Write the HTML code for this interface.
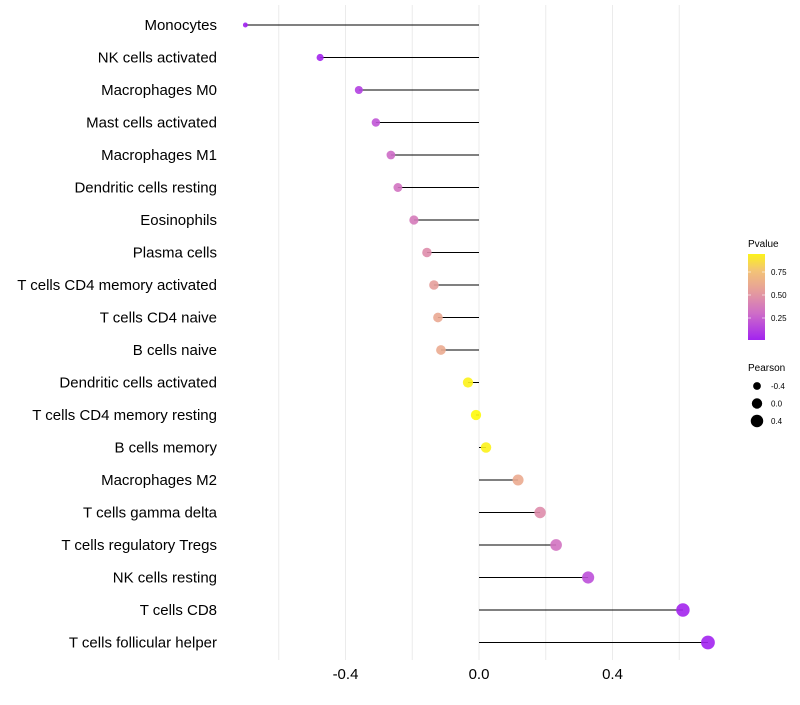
<!DOCTYPE html>
<html><head><meta charset="utf-8"><style>
body{margin:0;background:#fff;font-family:"Liberation Sans",sans-serif}
</style></head><body>
<svg id="chart" width="800" height="700" xmlns="http://www.w3.org/2000/svg"></svg>
<script>
const categories=["Monocytes","NK cells activated","Macrophages M0","Mast cells activated","Macrophages M1","Dendritic cells resting","Eosinophils","Plasma cells","T cells CD4 memory activated","T cells CD4 naive","B cells naive","Dendritic cells activated","T cells CD4 memory resting","B cells memory","Macrophages M2","T cells gamma delta","T cells regulatory  Tregs","NK cells resting","T cells CD8","T cells follicular helper"];
const pearson=[-0.70,-0.476,-0.36,-0.309,-0.264,-0.243,-0.195,-0.156,-0.135,-0.123,-0.114,-0.033,-0.009,0.021,0.117,0.183,0.231,0.327,0.611,0.686];
const pvalue=[0.0,0.02,0.12,0.2,0.3,0.33,0.37,0.45,0.55,0.62,0.63,0.95,0.98,0.95,0.63,0.45,0.33,0.18,0.02,0.01];
const xTicks=[-0.4,0.0,0.4];
const xTickLabels=["-0.4","0.0","0.4"];
const gridVals=[-0.6,-0.4,-0.2,0,0.2,0.4,0.6];
const colorTicks=[0.25,0.5,0.75];
const sizeLegend=[-0.4,0.0,0.4];

const svg=document.getElementById('chart');
const NS="http://www.w3.org/2000/svg";
const x=v=>479+v*333.75;
const y=i=>25+i*32.5;
const r=v=>Math.max(1.5,Math.sqrt(Math.max(0,27+30*v)));
const stops=[[0,[160,32,240]],[0.25,[200,98,208]],[0.5,[227,150,162]],[0.75,[242,190,128]],[1,[255,255,0]]];
function col(p){p=Math.max(0,Math.min(1,p));for(let k=1;k<stops.length;k++){if(p<=stops[k][0]){const[a0,a]=stops[k-1],[b0,b]=stops[k];const f=(p-a0)/(b0-a0);return `rgb(${a.map((c,i)=>Math.round(c+(b[i]-c)*f)).join(',')})`;}}return 'rgb(255,255,0)';}
function mk(t,at,parent){const e=document.createElementNS(NS,t);for(const k in at)e.setAttribute(k,at[k]);(parent||svg).appendChild(e);return e;}

gridVals.forEach(v=>{
  const g=mk('line',{x1:x(v),x2:x(v),y1:5,y2:660,stroke:'#ebebeb','stroke-width':1});
  
  
});
xTicks.forEach((v,i)=>{
  const t=mk('text',{x:x(v),y:679,'text-anchor':'middle','font-size':15,fill:'#000'});
  t.textContent=xTickLabels[i];
  
  
});
categories.forEach((c,i)=>{
  const t=mk('text',{x:217,y:y(i)+5,'text-anchor':'end','font-size':15,fill:'#000'});
  t.textContent=c;
  
  
  const l=mk('line',{x1:x(0),x2:x(pearson[i]),y1:y(i),y2:y(i),stroke:'#000','stroke-width':1});
  
  
  const d=mk('circle',{cx:x(pearson[i]),cy:y(i),r:r(pearson[i]),fill:col(pvalue[i]),'fill-opacity':0.9});
  
  
});
const lt=mk('text',{x:748,y:247,'font-size':10});lt.textContent="Pvalue";


const defs=mk('defs',{});
const lg=mk('linearGradient',{id:'pg',x1:0,y1:1,x2:0,y2:0},defs);
[0,0.06,0.31,0.56,0.81,1].forEach(o=>{mk('stop',{offset:o,'stop-color':col(0.01+o*0.94)},lg);});
const cb=mk('rect',{x:748,y:254,width:17,height:86,fill:'url(#pg)'});


const cy=p=>341-p*92;
colorTicks.forEach(p=>{
  mk('line',{x1:748,x2:751,y1:cy(p),y2:cy(p),stroke:'#fff','stroke-opacity':0.6});
  mk('line',{x1:762,x2:765,y1:cy(p),y2:cy(p),stroke:'#fff','stroke-opacity':0.6});
  const t=mk('text',{x:771,y:cy(p)+3,'font-size':8});t.textContent=p.toFixed(2);
  
  
});
const st=mk('text',{x:748,y:371,'font-size':10});st.textContent="Pearson";


sizeLegend.forEach((v,i)=>{
  const c=mk('circle',{cx:757,cy:386+i*17.5,r:r(v),fill:'#000'});
  
  
  const t=mk('text',{x:771,y:389+i*17.5,'font-size':8});t.textContent=v.toFixed(1);
  
  
});
</script>
</body></html>
